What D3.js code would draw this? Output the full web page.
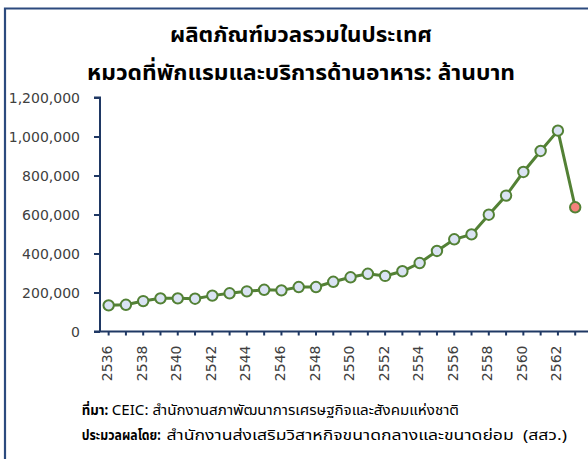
<!DOCTYPE html>
<html><head><meta charset="utf-8">
<script src="https://cdn.jsdelivr.net/npm/d3@7"></script>
<style>
html,body{margin:0;padding:0;background:#fff;}
svg{display:block;}
</style></head>
<body>
<svg id="c" width="588" height="459"></svg>
<script>
const titleLines = ["ผลิตภัณฑ์มวลรวมในประเทศ", "หมวดที่พักแรมและบริการด้านอาหาร: ล้านบาท"];
const years = [2536,2537,2538,2539,2540,2541,2542,2543,2544,2545,2546,2547,2548,2549,2550,2551,2552,2553,2554,2555,2556,2557,2558,2559,2560,2561,2562,2563];
const values = [134000,137000,156000,170000,170000,168000,184000,196000,206000,214000,211000,228000,228000,255000,278000,296000,285000,309000,351000,413000,473000,498000,599000,697000,818000,926000,1030000,637000];
const yTicks = [0,200000,400000,600000,800000,1000000,1200000];
const xTickLabels = [2536,2538,2540,2542,2544,2546,2548,2550,2552,2554,2556,2558,2560,2562];
const footLabels = ["ที่มา:", "ประมวลผลโดย:"];
const footTexts = ["CEIC: สำนักงานสภาพัฒนาการเศรษฐกิจและสังคมแห่งชาติ", "สำนักงานส่งเสริมวิสาหกิจขนาดกลางและขนาดย่อม  (สสว.)"];

(function(){
const font = "Tahoma, 'Noto Sans', 'Noto Sans Thai', sans-serif";
const numFont = "'DejaVu Sans', sans-serif";
const svg = d3.select("#c");
const navy = "#1f3864";

// frame
svg.append("path").attr("d","M5,460 V8.5 H588").attr("fill","none").attr("stroke","#2c4a7e").attr("stroke-width",2.2);

// title
const titleWidths = [262, 428];
svg.selectAll("text.title").data(titleLines).enter().append("text")
  .attr("x",(d,i)=>301-titleWidths[i]/2).attr("y",(d,i)=>42+i*38)
  .attr("font-family",font).attr("font-weight","bold").attr("font-size",22).attr("fill","#000")
  .attr("textLength",(d,i)=>titleWidths[i]).attr("lengthAdjust","spacingAndGlyphs")
  .text(d=>d);

const pl=100, pb=331.5, pt=97.5;
const x = d3.scaleBand().domain(years).range([pl, pl+28*17.28]);
const y = d3.scaleLinear().domain([0,1200000]).range([pb, pt]);

// y axis
const yAxis = d3.axisLeft(y).tickValues(yTicks).tickSize(6).tickFormat(d3.format(","));
const gy = svg.append("g").attr("transform",`translate(${pl},0)`).call(yAxis);
gy.select(".domain").attr("stroke",navy).attr("stroke-width",2).attr("d",`M-6,${pt}H0V${pb}`);
gy.selectAll(".tick line").attr("stroke",navy).attr("stroke-width",2);
gy.selectAll(".tick text").attr("font-family",numFont).attr("font-size",14).attr("fill","#404040").attr("x",-20).attr("dy","0.36em");

// x axis
const xAxis = d3.axisBottom(x).tickSize(4).tickFormat(d=>xTickLabels.includes(d)?d:"");
const gx = svg.append("g").attr("transform",`translate(0,${pb})`).call(xAxis);
gx.select(".domain").attr("stroke",navy).attr("stroke-width",2).attr("d",`M${pl-6},0H588`);
gx.selectAll(".tick line").attr("stroke",navy).attr("stroke-width",2);
gx.selectAll(".tick text").attr("font-family",numFont).attr("font-size",14).attr("fill","#404040")
  .attr("transform","rotate(-90)").attr("text-anchor","end").attr("x",-14).attr("y",-1.5).attr("dy","0.36em");

// line
const cx = d=>x(d)+x.bandwidth()/2;
const pts = years.map((yr,i)=>({yr, v:values[i], last:i===years.length-1}));
svg.append("path").datum(pts)
  .attr("d", d3.line().x(d=>cx(d.yr)).y(d=>y(d.v)))
  .attr("fill","none").attr("stroke","#538135").attr("stroke-width",3);
svg.selectAll("circle.pt").data(pts).enter().append("circle")
  .attr("cx",d=>cx(d.yr)).attr("cy",d=>y(d.v)).attr("r",5.2)
  .attr("fill",d=>d.last?"#f4827c":"#dae3f3").attr("stroke","#538135").attr("stroke-width",2);

// footer
const footY = [415, 440];
const labelW = [26.5, 79];
const bodyX = [111.7, 166.5];
const bodyEnd = [459, 567];
footLabels.forEach((lab,i)=>{
  svg.append("text").attr("x",81.7).attr("y",footY[i]).attr("font-family",font).attr("font-size",13.5)
    .attr("font-weight","bold").attr("fill","#000")
    .attr("textLength",labelW[i]).attr("lengthAdjust","spacingAndGlyphs").text(lab);
  svg.append("text").attr("x",bodyX[i]).attr("y",footY[i]).attr("font-family",font).attr("font-size",13.5)
    .attr("fill","#000").attr("xml:space","preserve").style("white-space","pre")
    .attr("textLength",bodyEnd[i]-bodyX[i]).attr("lengthAdjust","spacingAndGlyphs").text(footTexts[i]);
});
})();
</script>
</body></html>
